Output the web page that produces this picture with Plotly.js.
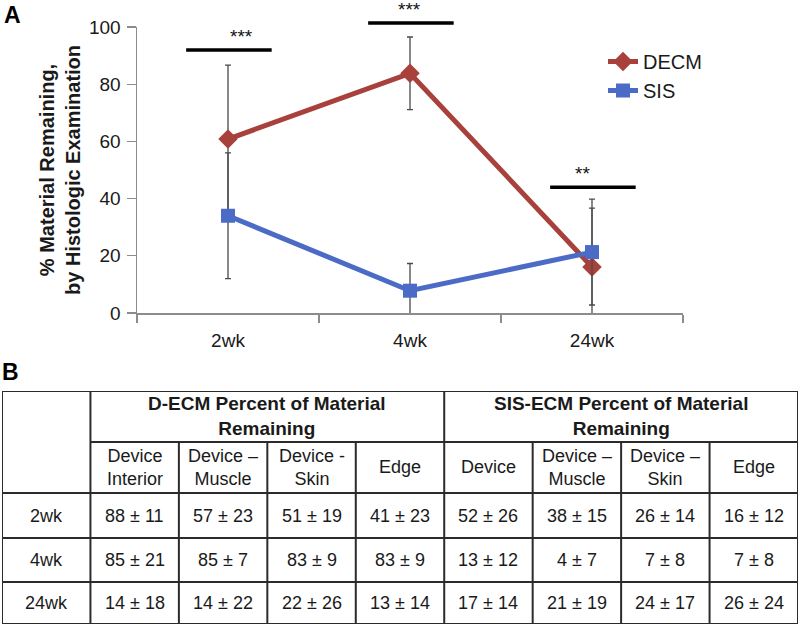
<!DOCTYPE html>
<html><head><meta charset="utf-8">
<script src="https://cdn.plot.ly/plotly-3.0.1.min.js"></script>
<style>html,body{margin:0;padding:0;background:#fff}#chart{width:800px;height:626px}</style>
</head><body><div id="chart"></div>
<script>
// ---- Panel A data ----
const timepoints = ['2wk', '4wk', '24wk'];
const decmValues = [60.8, 83.8, 16.1];
const decmErrors = [25.9, 12.7, 20.6];
const sisValues = [34.0, 7.8, 21.3];
const sisErrors = [22.0, 9.5, 18.5];
const sigLevels = [92, 101.4, 44];
const sigLabels = ['***', '***', '**'];
const yTicks = [0, 20, 40, 60, 80, 100];

// ---- Panel B data ----
const tableRows = ['2wk', '4wk', '24wk'];
const decmHeader = 'D-ECM Percent of Material<br>Remaining';
const sisHeader = 'SIS-ECM Percent of Material<br>Remaining';
const decmRegions = ['Device<br>Interior', 'Device –<br>Muscle', 'Device -<br>Skin', 'Edge'];
const sisRegions = ['Device', 'Device –<br>Muscle', 'Device –<br>Skin', 'Edge'];
const decmMean = [[88, 57, 51, 41], [85, 85, 83, 83], [14, 14, 22, 13]];
const decmSD = [[11, 23, 19, 23], [21, 7, 9, 9], [18, 22, 26, 14]];
const sisMean = [[52, 38, 26, 16], [13, 4, 7, 7], [17, 21, 24, 26]];
const sisSD = [[26, 15, 14, 12], [12, 7, 8, 8], [14, 19, 17, 24]];

// ---- layout geometry (pixels) ----
const W = 800, H = 626;
const px = v => v / W;
const py = v => 1 - v / H;
const plotL = 137, plotR = 683, plotT = 27, plotB = 313;
const yMin = 0, yMax = 100;
const nCat = timepoints.length;
// value -> paper (same linear scale as yaxis; used for marks allowed outside the axis range)
const yPaper = v => py(plotB - (v - yMin) * (plotB - plotT) / (yMax - yMin));
const xPaper = c => px(plotL + (c + 0.5) * (plotR - plotL) / nCat);
const tabL = 2, tabR = 798, tabT = 391, tabB = 624;
const rowHeights = [51, 51, 45, 44, 42];
const rowEdges = [0];
rowHeights.forEach(h => rowEdges.push(rowEdges[rowEdges.length - 1] + h));
const nCols = 1 + decmRegions.length + sisRegions.length;

const RED = '#A8403B', BLUE = '#4B6BC6', AX = '#8c8c8c', TXT = '#1a1a1a', GRID = '#2b2b2b';
const FONT = 'Liberation Sans, Arial, Helvetica, sans-serif';

const traces = [
  {
    x: timepoints, y: decmValues, name: 'DECM', type: 'scatter', mode: 'lines+markers',
    line: {color: RED, width: 5}, marker: {symbol: 'diamond', size: 15, color: RED},
    error_y: {type: 'data', array: decmErrors, visible: true, color: '#4a4a4a', thickness: 1.3, width: 3}
  },
  {
    x: timepoints, y: sisValues, name: 'SIS', type: 'scatter', mode: 'lines+markers',
    line: {color: BLUE, width: 5}, marker: {symbol: 'square', size: 14, color: BLUE},
    error_y: {type: 'data', array: sisErrors, visible: true, color: '#4a4a4a', thickness: 1.3, width: 3}
  }
];

const shapes = [];
const annotations = [];

// significance bars
sigLevels.forEach((lv, i) => {
  shapes.push({type: 'line', xref: 'paper', yref: 'paper', x0: xPaper(i - 0.23), x1: xPaper(i + 0.24),
    y0: yPaper(lv), y1: yPaper(lv), line: {color: '#000', width: 3.5}});
  annotations.push({xref: 'paper', yref: 'paper', x: xPaper(i), y: yPaper(lv), text: sigLabels[i], showarrow: false,
    yanchor: 'bottom', yshift: 1, font: {size: 19, color: '#111', family: FONT}});
});

// y title
annotations.push({xref: 'paper', yref: 'paper', x: px(60), y: py((plotT + plotB) / 2),
  text: '<b>% Material Remaining,<br>by Histologic Examination</b>', textangle: -90, showarrow: false,
  font: {size: 20, color: TXT, family: FONT}, xanchor: 'center', yanchor: 'middle'});

// panel labels
annotations.push({xref: 'paper', yref: 'paper', x: px(2), y: py(15), text: '<b>A</b>', showarrow: false,
  xanchor: 'left', yanchor: 'middle', font: {size: 23, color: '#000', family: FONT}});
annotations.push({xref: 'paper', yref: 'paper', x: px(0), y: py(372), text: '<b>B</b>', showarrow: false,
  xanchor: 'left', yanchor: 'middle', font: {size: 23, color: '#000', family: FONT}});

// ---- table (drawn on hidden axes x2/y2, column and row units) ----
const tl = {color: GRID, width: 2};
const yTop = rowEdges[0], yHdr = rowEdges[1], yEnd = rowEdges[rowEdges.length - 1];
shapes.push({type: 'line', xref: 'x2', yref: 'y2', x0: 0, x1: nCols, y0: yTop, y1: yTop, line: tl});
shapes.push({type: 'line', xref: 'x2', yref: 'y2', x0: 1, x1: nCols, y0: yHdr, y1: yHdr, line: tl});
for (let r = 2; r < rowEdges.length; r++) {
  shapes.push({type: 'line', xref: 'x2', yref: 'y2', x0: 0, x1: nCols, y0: rowEdges[r], y1: rowEdges[r], line: tl});
}
for (let c = 0; c <= nCols; c++) {
  const full = (c === 0 || c === 1 || c === 1 + decmRegions.length || c === nCols);
  shapes.push({type: 'line', xref: 'x2', yref: 'y2', x0: c, x1: c, y0: full ? yTop : yHdr, y1: yEnd, line: tl});
}
const cellText = (x, y, text, size, bold) => annotations.push({xref: 'x2', yref: 'y2', x: x, y: y,
  text: bold ? '<b>' + text + '</b>' : text, showarrow: false, xanchor: 'center', yanchor: 'middle',
  font: {size: size, color: TXT, family: FONT}});
const mid = r => (rowEdges[r] + rowEdges[r + 1]) / 2;
cellText(1 + decmRegions.length / 2, mid(0), decmHeader, 19, true);
cellText(1 + decmRegions.length + sisRegions.length / 2, mid(0), sisHeader, 19, true);
decmRegions.forEach((t, i) => cellText(1.5 + i, mid(1), t, 18, false));
sisRegions.forEach((t, i) => cellText(1.5 + decmRegions.length + i, mid(1), t, 18, false));
tableRows.forEach((lab, r) => {
  cellText(0.5, mid(r + 2), lab, 18, false);
  decmMean[r].forEach((m, i) => cellText(1.5 + i, mid(r + 2), m + ' ± ' + decmSD[r][i], 18, false));
  sisMean[r].forEach((m, i) => cellText(1.5 + decmRegions.length + i, mid(r + 2), m + ' ± ' + sisSD[r][i], 18, false));
});

const layout = {
  width: W, height: H,
  margin: {l: 0, r: 0, t: 0, b: 0},
  paper_bgcolor: '#fff', plot_bgcolor: 'rgba(0,0,0,0)',
  font: {family: FONT, color: TXT, size: 18},
  showlegend: true,
  legend: {x: px(603), y: py(42), xanchor: 'left', yanchor: 'top', bgcolor: 'rgba(0,0,0,0)',
    font: {size: 20, color: TXT, family: FONT}},
  xaxis: {domain: [px(plotL), px(plotR)], type: 'category', range: [-0.5, nCat - 0.5],
    showline: true, linecolor: AX, linewidth: 1.5, ticks: 'outside', ticklen: 8, tickcolor: AX,
    tickwidth: 1.3, tickson: 'boundaries', showgrid: false, zeroline: false, fixedrange: true,
    ticklabelstandoff: 10, tickfont: {size: 19, color: TXT}, anchor: 'y'},
  yaxis: {domain: [py(plotB), py(plotT)], range: [yMin, yMax], tickvals: yTicks,
    showline: true, linecolor: AX, linewidth: 1.5, ticks: 'outside', ticklen: 9, tickcolor: AX,
    tickwidth: 1.3, showgrid: false, zeroline: false, fixedrange: true,
    ticklabelstandoff: 2, tickfont: {size: 19, color: TXT}, anchor: 'x'},
  xaxis2: {domain: [px(tabL), px(tabR)], range: [0, nCols], visible: false, fixedrange: true, anchor: 'y2'},
  yaxis2: {domain: [py(tabB), py(tabT)], range: [yEnd, 0], visible: false, fixedrange: true, anchor: 'x2'},
  shapes: shapes,
  annotations: annotations
};

Plotly.newPlot('chart', traces, layout, {staticPlot: true, displayModeBar: false});
</script></body></html>
